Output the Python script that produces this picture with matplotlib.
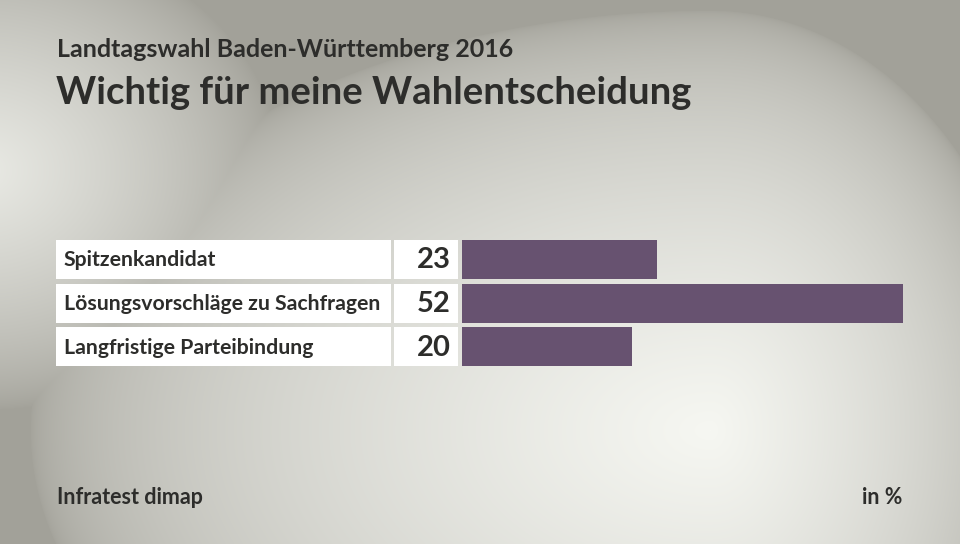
import numpy as np
import matplotlib
matplotlib.use('Agg')
import matplotlib.pyplot as plt
from matplotlib.patches import Rectangle

# data
categories = ['Spitzenkandidat', 'Lösungsvorschläge zu Sachfragen', 'Langfristige Parteibindung']
values = [23, 52, 20]
value_labels = ['23', '52', '20']

subtitle = 'Landtagswahl Baden-Württemberg 2016'
title = 'Wichtig für meine Wahlentscheidung'
source = 'Infratest dimap'
unit = 'in %'

W, H = 960, 544
plt.rcParams['font.family'] = ['Lato', 'DejaVu Sans']
txt_col = '#2d2d2b'
bar_col = '#675270'

fig = plt.figure(figsize=(W / 100, H / 100), dpi=100)

# background gradient (light spot lower right of center, darker edges)
bg = fig.add_axes([0, 0, 1, 1])
yy, xx = np.mgrid[0:H, 0:W]
rx = np.where(xx > 710, 330.0, 680.0)
d1 = np.sqrt(((xx - 710) / rx) ** 2 + ((yy - 430) / 420.0) ** 2)
d2 = np.sqrt(((xx + 20) / 300.0) ** 2 + ((yy - 170) / 240.0) ** 2)
light = np.clip(1 - d1, 0, 1) ** 0.5
light2 = np.clip(1 - d2, 0, 1) ** 0.7 * 0.85
t = np.maximum(light, light2)
dark = np.array([162, 161, 153]) / 255.0
lite = np.array([246, 247, 242]) / 255.0
img = dark[None, None, :] + (lite - dark)[None, None, :] * t[:, :, None]
bg.imshow(img, extent=[0, W, H, 0], aspect='auto')
bg.set_xlim(0, W)
bg.set_ylim(H, 0)
bg.axis('off')

bg.text(57, 57, subtitle, fontsize=18, fontweight='bold', color=txt_col, va='baseline')
bg.text(56, 104, title, fontsize=27.5, fontweight='bold', color=txt_col, va='baseline')
bg.text(57, 504, source, fontsize=15.5, fontweight='bold', color=txt_col, va='baseline')
bg.text(902, 504, unit, fontsize=15.5, fontweight='bold', color=txt_col, va='baseline', ha='right')

# label/value boxes
row_top = 240
pitch = 43.5
box_h = 39
for i, (cat, lab) in enumerate(zip(categories, value_labels)):
    top = row_top + i * pitch
    bg.add_patch(Rectangle((56, top), 335, box_h, facecolor='white', edgecolor='none'))
    bg.add_patch(Rectangle((394, top), 64, box_h, facecolor='white', edgecolor='none'))
    bg.text(64, top + box_h / 2 + 1, cat, fontsize=15.3, fontweight='bold', color=txt_col, va='center')
    bg.text(451, top + box_h / 2 + 1, lab, fontsize=21, fontweight='bold', color=txt_col, va='center', ha='right')

# bars
ax = fig.add_axes([462 / W, (H - 366) / H, 441 / W, 126 / H])
ax.set_facecolor('none')
ypos = np.arange(len(values))
ax.barh(ypos, values, height=box_h / pitch, color=bar_col, left=0)
ax.set_xlim(0, max(values))
ax.set_ylim(2 + 0.5 * box_h / pitch, -0.5 * box_h / pitch)
ax.axis('off')

fig.savefig('out.png', dpi=100)
